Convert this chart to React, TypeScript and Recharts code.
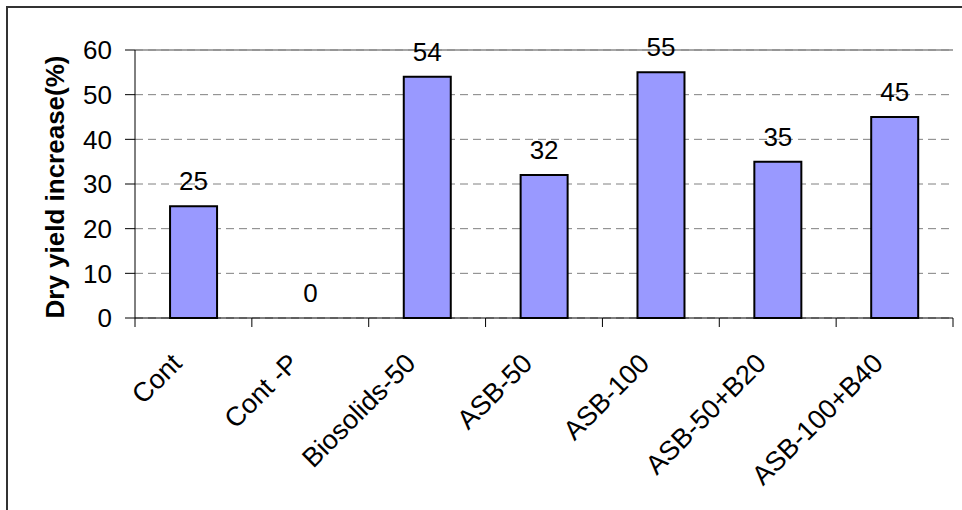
import { Bar, BarChart, CartesianGrid, Cell, LabelList, ReferenceLine, XAxis, YAxis } from "recharts";

const treatments = ["Cont", "Cont -P", "Biosolids-50", "ASB-50", "ASB-100", "ASB-50+B20", "ASB-100+B40"];
const yieldIncrease = [25, 0, 54, 32, 55, 35, 45];
const yTicks = [0, 10, 20, 30, 40, 50, 60];

const FONT = '"Liberation Sans", Arial, Helvetica, sans-serif';

const rows = treatments.map((name, i) => ({ name, value: yieldIncrease[i] }));

// category label slanted up-right, plus the tick marks that sit on the category edges
function SlantedTick(props: any) {
  const { x, y, payload, width, visibleTicksCount, index } = props;
  const half = width / visibleTicksCount / 2;
  return (
    <g>
      <line x1={x - half} x2={x - half} y1={y} y2={y + 9} stroke="#000" />
      {index === visibleTicksCount - 1 && (
        <line x1={x + half} x2={x + half} y1={y} y2={y + 9} stroke="#000" />
      )}
      <text
        transform={`translate(${x - 10},${y + 47}) rotate(-45)`}
        textAnchor="end"
        fontFamily={FONT}
        fontSize={27}
        fill="#000"
      >
        {payload.value}
      </text>
    </g>
  );
}

function AxisTitle(props: any) {
  const { viewBox } = props;
  const cx = viewBox.x + 64;
  const cy = viewBox.y + viewBox.height / 2 + 3;
  return (
    <text
      x={cx}
      y={cy}
      transform={`rotate(-90, ${cx}, ${cy})`}
      textAnchor="middle"
      fontFamily={FONT}
      fontSize={26}
      fontWeight="bold"
      fill="#000"
    >
      Dry yield increase(%)
    </text>
  );
}

export default function App() {
  return (
    <div style={{ position: "absolute", left: 0, top: 0, width: 962, height: 510, background: "#fff", overflow: "hidden" }}>
      {/* outer chart frame, only top and left edges fall inside the view */}
      <div
        style={{
          position: "absolute",
          left: 6,
          top: 6,
          width: 1000,
          height: 600,
          borderLeft: "2px solid #333",
          borderTop: "2px solid #333",
        }}
      />
      <BarChart
        width={962}
        height={510}
        data={rows}
        margin={{ top: 50, right: 9, left: 0, bottom: 0 }}
        barCategoryGap="30%"
        style={{ position: "absolute", left: 0, top: 0 }}
      >
        <CartesianGrid vertical={false} stroke="#808080" strokeDasharray="8 5" />
        <XAxis
          dataKey="name"
          stroke="#000"
          tickLine={false}
          tickSize={0}
          tickMargin={0}
          interval={0}
          height={192}
          tick={<SlantedTick />}
        />
        <YAxis
          domain={[0, 60]}
          ticks={yTicks}
          width={135}
          tickSize={10}
          tickMargin={13}
          stroke="#000"
          tick={{ fill: "#000", fontFamily: FONT, fontSize: 26 }}
          label={<AxisTitle />}
        />
        <YAxis yAxisId="frame" orientation="right" width={0} tick={false} tickLine={false} stroke="#888" domain={[0, 60]} />
        <ReferenceLine y={60} stroke="#888" strokeWidth={1.5} />
        <Bar
          dataKey="value"
          fill="#9999FF"
          stroke="#000"
          strokeWidth={2}
          minPointSize={0.01}
          isAnimationActive={false}
        >
          {rows.map((r) => (
            <Cell key={r.name} stroke={r.value === 0 ? "none" : "#000"} fill={r.value === 0 ? "none" : "#9999FF"} />
          ))}
          <LabelList dataKey="value" position="top" offset={16} fill="#000" fontFamily={FONT} fontSize={26} />
        </Bar>
      </BarChart>
    </div>
  );
}
